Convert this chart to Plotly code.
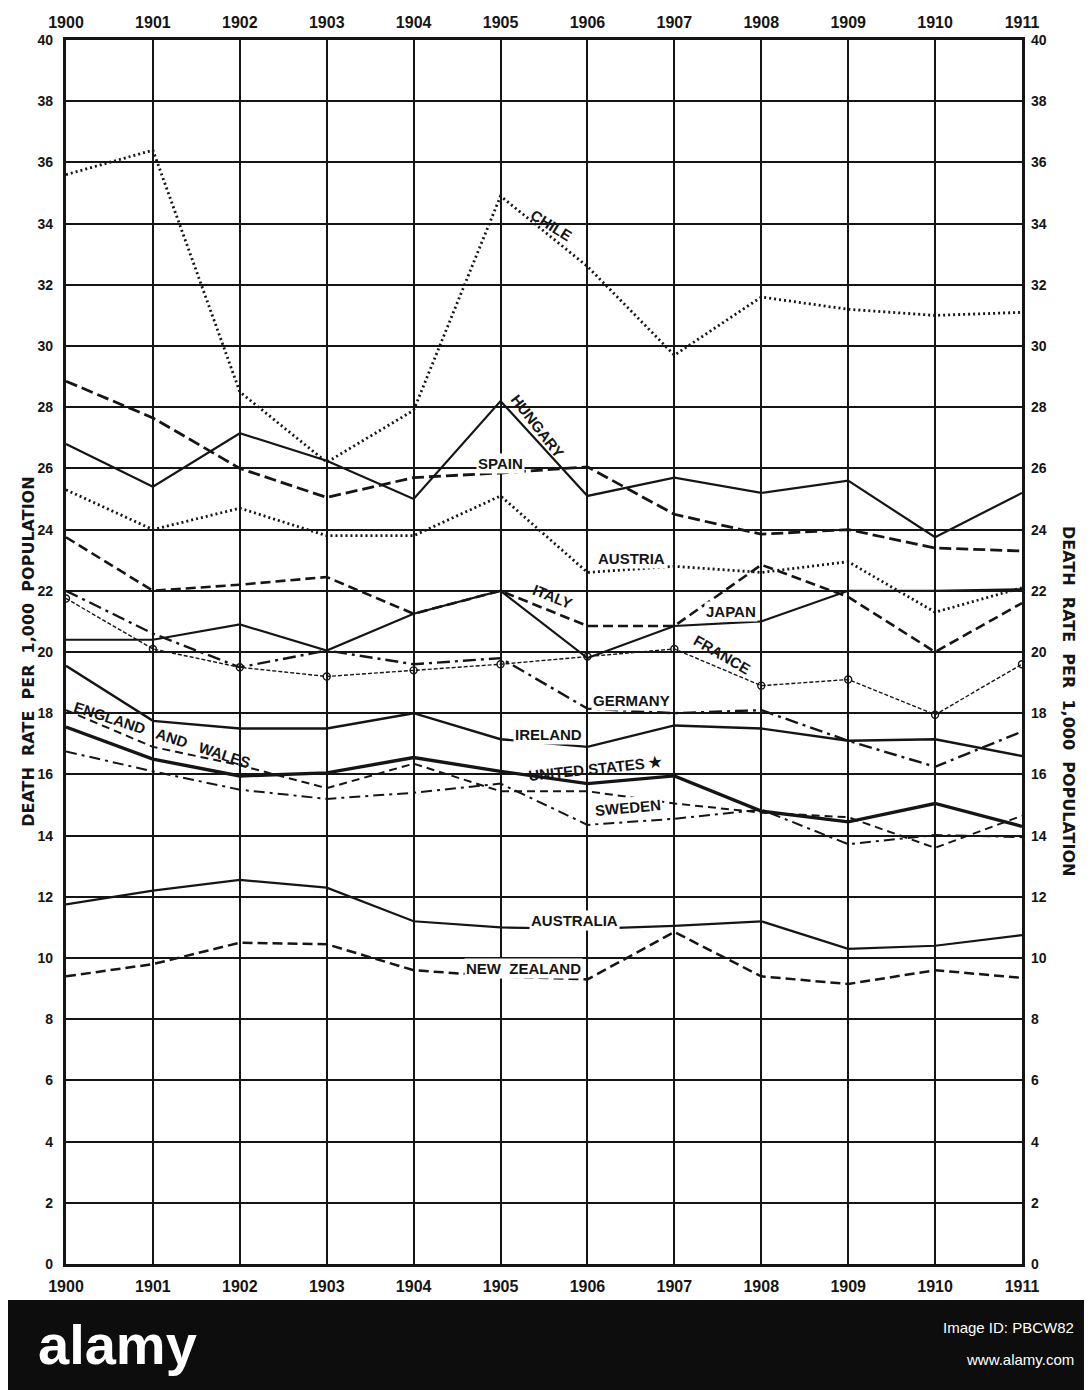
import plotly.graph_objects as go

years = [1900, 1901, 1902, 1903, 1904, 1905, 1906, 1907, 1908, 1909, 1910, 1911]
year_labels = ["1900", "1901", "1902", "1903", "1904", "1905", "1906", "1907", "1908", "1909", "1910", "1911"]
y_ticks = list(range(0, 41, 2))

chile = [35.6, 36.4, 28.5, 26.2, 27.9, 34.9, 32.6, 29.7, 31.6, 31.2, 31.0, 31.1]
hungary = [26.8, 25.4, 27.15, 26.25, 25.0, 28.2, 25.1, 25.7, 25.2, 25.6, 23.75, 25.2]
spain = [28.85, 27.65, 26.0, 25.05, 25.7, 25.85, 26.05, 24.5, 23.85, 24.0, 23.4, 23.3]
austria = [25.3, 24.0, 24.7, 23.8, 23.8, 25.1, 22.6, 22.8, 22.6, 22.95, 21.3, 22.1]
italy = [23.75, 22.0, 22.2, 22.45, 21.25, 22.0, 20.85, 20.85, 22.85, 21.8, 20.0, 21.6]
japan = [20.4, 20.4, 20.9, 20.05, 21.25, 22.0, 19.8, 20.85, 21.0, 22.0, 22.0, 22.05]
germany = [22.0, 20.6, 19.5, 20.05, 19.6, 19.8, 18.15, 18.0, 18.1, 17.1, 16.25, 17.4]
france = [21.75, 20.1, 19.5, 19.2, 19.4, 19.6, 19.85, 20.1, 18.9, 19.1, 17.95, 19.6]
ireland = [19.55, 17.75, 17.5, 17.5, 18.0, 17.15, 16.9, 17.6, 17.5, 17.1, 17.15, 16.6]
united_states = [17.55, 16.5, 15.95, 16.05, 16.55, 16.1, 15.7, 15.95, 14.8, 14.45, 15.05, 14.3]
england_wales = [18.1, 16.9, 16.3, 15.55, 16.35, 15.45, 15.45, 15.05, 14.75, 14.6, 13.6, 14.65]
sweden = [16.75, 16.1, 15.5, 15.2, 15.4, 15.7, 14.35, 14.55, 14.85, 13.72, 14.02, 13.95]
australia = [11.75, 12.2, 12.55, 12.3, 11.2, 11.0, 10.95, 11.05, 11.2, 10.3, 10.4, 10.75]
new_zealand = [9.4, 9.8, 10.5, 10.45, 9.6, 9.4, 9.3, 10.85, 9.4, 9.15, 9.6, 9.35]

INK = "#151515"
FONT = "Liberation Sans"
WIDE = "DejaVu Sans"

series = [
    ("Chile", chile, 2.8, "2px,3px"),
    ("Hungary", hungary, 2.2, "solid"),
    ("Spain", spain, 2.8, "12px,5px"),
    ("Austria", austria, 2.8, "2px,3px"),
    ("Italy", italy, 2.6, "10px,5px"),
    ("Japan", japan, 2.2, "solid"),
    ("Germany", germany, 2.4, "13px,5px,3px,5px"),
    ("Ireland", ireland, 2.4, "solid"),
    ("United States", united_states, 3.4, "solid"),
    ("England and Wales", england_wales, 2.0, "8px,5px"),
    ("Sweden", sweden, 2.0, "11px,5px,3px,5px"),
    ("Australia", australia, 2.2, "solid"),
    ("New Zealand", new_zealand, 2.5, "10px,5px"),
]

fig = go.Figure()
for name, vals, w, dash in series:
    fig.add_trace(go.Scatter(x=years, y=vals, mode="lines", name=name,
                             line=dict(color=INK, width=w, dash=dash),
                             showlegend=False))

fig.add_trace(go.Scatter(x=years, y=france, mode="lines+markers", name="France",
                         line=dict(color=INK, width=1.4, dash="4px,2px"),
                         marker=dict(symbol="circle-open", size=7, color=INK,
                                     line=dict(width=1.4, color=INK)),
                         showlegend=False))

# invisible trace for the mirrored (top / right) axes
fig.add_trace(go.Scatter(x=[years[0]], y=[y_ticks[0]], xaxis="x2", yaxis="y2",
                         mode="markers", marker=dict(opacity=0),
                         showlegend=False, hoverinfo="skip"))

tickfont_x = dict(family=FONT, size=16, color=INK)
tickfont_y = dict(family=FONT, size=14, color=INK)

# the page body adds an 8px offset, so the figure is 8px smaller than the window
fig.update_layout(
    width=1084, height=1382,
    margin=dict(l=58, r=70, t=32, b=126, autoexpand=False),
    paper_bgcolor="white", plot_bgcolor="white",
    xaxis=dict(range=[1900, 1911], tickvals=years,
               ticktext=["<b>%s</b>" % t for t in year_labels],
               tickfont=tickfont_x, showgrid=True, gridcolor=INK, gridwidth=1.8,
               showline=True, linecolor=INK, linewidth=2.8, mirror=True,
               ticks="", zeroline=False, automargin=False, ticklabelstandoff=6),
    xaxis2=dict(range=[1900, 1911], tickvals=years, overlaying="x", side="top",
                ticktext=["<b>%s</b>" % t for t in year_labels],
                tickfont=tickfont_x, showgrid=False, ticks="", zeroline=False,
                showline=False, automargin=False, ticklabelstandoff=8),
    yaxis=dict(range=[0, 40], tickvals=y_ticks,
               ticktext=["<b>%d</b>" % v for v in y_ticks],
               tickfont=tickfont_y, showgrid=True, gridcolor=INK, gridwidth=1.8,
               showline=True, linecolor=INK, linewidth=3.4, mirror=True,
               ticks="", zeroline=False, automargin=False, ticklabelstandoff=7),
    yaxis2=dict(range=[0, 40], tickvals=y_ticks, overlaying="y", side="right",
                ticktext=["<b>%d</b>" % v for v in y_ticks],
                tickfont=tickfont_y, showgrid=False, ticks="", zeroline=False,
                showline=False, automargin=False, ticklabelstandoff=8),
)

lab = dict(family=FONT, size=15, color=INK)
labels = [
    ("CHILE", 1905.59, 33.95, 32, None),
    ("HUNGARY", 1905.42, 27.4, 52, None),
    ("SPAIN", 1905.0, 26.15, 0, "white"),
    ("AUSTRIA", 1906.51, 23.07, 0, "white"),
    ("ITALY", 1905.6, 21.8, 22, None),
    ("JAPAN", 1907.65, 21.34, 0, "white"),
    ("FRANCE", 1907.55, 19.93, 30, None),
    ("GERMANY", 1906.51, 18.43, 0, "white"),
    ("IRELAND", 1905.55, 17.32, 0, "white"),
    ("UNITED STATES \u2605", 1906.09, 16.2, -6, None),
    ("SWEDEN", 1906.47, 14.92, -5, "white"),
    ("ENGLAND   AND   WALES", 1901.1, 17.3, 18, None),
    ("AUSTRALIA", 1905.85, 11.24, 0, "white"),
    ("NEW  ZEALAND", 1905.26, 9.67, 0, "white"),
]
for text, x, y, ang, bg in labels:
    fig.add_annotation(x=x, y=y, xref="x", yref="y", text="<b>%s</b>" % text,
                       showarrow=False, textangle=ang, font=lab,
                       bgcolor=bg if bg else "rgba(0,0,0,0)", borderpad=1)

# axis titles
title = "<b>DEATH  RATE  PER  1,000  POPULATION</b>"
fig.add_annotation(xref="paper", yref="paper", x=-0.04, y=0.50,
                   xanchor="center", yanchor="middle",
                   text=title, textangle=-90, showarrow=False,
                   font=dict(family=WIDE, size=16, color=INK))
fig.add_annotation(xref="paper", yref="paper", x=1.048, y=0.46,
                   xanchor="center", yanchor="middle",
                   text=title, textangle=90, showarrow=False,
                   font=dict(family=WIDE, size=16, color=INK))

# dark banner at the bottom of the picture
fig.add_shape(type="rect", xref="paper", yref="paper",
              x0=-0.07, x1=1.08, y0=-0.11, y1=-0.0294,
              fillcolor="#0d0d0d", line=dict(width=0), layer="above")
fig.add_annotation(xref="paper", yref="paper", x=-0.031, y=-0.066,
                   xanchor="left", yanchor="middle",
                   text="<b>alamy</b>", showarrow=False,
                   font=dict(family=FONT, size=56, color="white"))
fig.add_annotation(xref="paper", yref="paper", x=1.0565, y=-0.0515,
                   xanchor="right", yanchor="middle",
                   text="Image ID: PBCW82", showarrow=False,
                   font=dict(family=FONT, size=15, color="white"))
fig.add_annotation(xref="paper", yref="paper", x=1.0565, y=-0.0784,
                   xanchor="right", yanchor="middle",
                   text="www.alamy.com", showarrow=False,
                   font=dict(family=FONT, size=15, color="white"))

fig.write_html("out.html")
